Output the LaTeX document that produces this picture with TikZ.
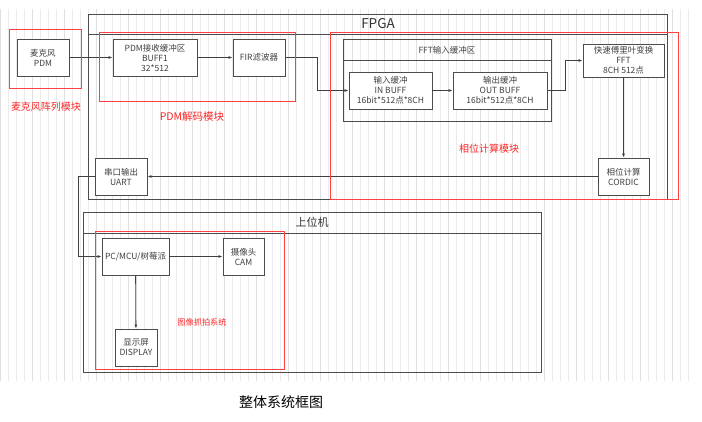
\documentclass[tikz,border=0pt]{standalone}
\usepackage{fontspec}
\setmainfont{Noto Sans CJK SC}
\usetikzlibrary{positioning,calc,arrows.meta}

\begin{document}
\begin{tikzpicture}[x=1pt,y=-1pt,
    blk/.style={draw=black!70,line width=0.9pt,fill=white,align=center,
      font=\fontsize{8.5}{10}\selectfont,text=black!75,inner sep=1pt},
    frame/.style={draw=black!70,line width=0.9pt},
    zone/.style={draw=red!75,line width=0.9pt},
    zonetext/.style={text=red!85},
    link/.style={draw=black!75,line width=0.8pt,-{Latex[length=4pt,width=3pt]}}]
                    \useasboundingbox (0,0) rectangle (702,421);
                    \fill[white] (0,0) rectangle (702,421);
                    \draw[black!8,line width=0.6pt,step=8] (0,9) grid (693,381);  % 背景网格
                    \draw[black!12,line width=0.6pt,step=32] (0,9) grid (693,381);

                    % FPGA
                    \draw[frame] (88,14) rectangle (667,199);
                    \draw[frame] (88,34) -- (667,34);
                    \node[font=\fontsize{13.5}{15}\selectfont,text=black!80] (fpgaT) at (378,24) {FPGA};
                    \draw[frame] (343,39) rectangle (551,121);
                    \draw[frame] (343,60) -- (551,60);
                    \node[font=\fontsize{8.5}{10}\selectfont,text=black!75] (fftbufT) at (447,50) {FFT输入缓冲区};

                    % 上位机
                    \draw[frame] (83,212) rectangle (541,372);
                    \draw[frame] (83,233) -- (541,233);
                    \node[font=\fontsize{11}{13}\selectfont,text=black!80] (hostT) at (312,222) {上位机};

                    \node[blk,minimum width=52pt,minimum height=37pt] (mic) at (43,57.5) {麦克风\\PDM};
                    \node[blk,minimum width=84pt,minimum height=37pt] (buff) at (155,57.5) {PDM接收缓冲区\\BUFF1\\32*512};
                    \node[blk,minimum width=52pt,minimum height=37pt] (fir) at (259,57.5) {FIR滤波器};
                    \node[blk,minimum width=83pt,minimum height=37pt] (inbuf) at (390.5,90.5) {输入缓冲\\IN BUFF\\16bit*512点*8CH};
                    \node[blk,minimum width=94pt,minimum height=37pt] (outbuf) at (500,90.5) {输出缓冲\\OUT BUFF\\16bit*512点*8CH};
                    \node[blk,minimum width=81pt,minimum height=33pt] (fft) at (623.5,60.5) {快速傅里叶变换\\FFT\\8CH 512点};
                    \node[blk,minimum width=51pt,minimum height=37pt] (cordic) at (623.5,176.5) {相位计算\\CORDIC};
                    \node[blk,minimum width=52pt,minimum height=37pt] (uart) at (121,176.5) {串口输出\\UART};
                    \node[blk,minimum width=67pt,minimum height=37pt] (pc) at (135.5,256.5) {PC/MCU/树莓派};
                    \node[blk,minimum width=41pt,minimum height=37pt] (cam) at (243.5,256.5) {摄像头\\CAM};
                    \node[blk,minimum width=42pt,minimum height=37pt] (disp) at (136,347.5) {显示屏\\DISPLAY};

                    \coordinate (fold1) at (317,57.5);
                    \coordinate (fold2) at (565,90.5);
                    \coordinate (fold3) at (78,176.5);

                    \draw[link] (mic) -- (buff);
                    \draw[link] (buff) -- (fir);
                    \draw[link] (fir.east) -- (fold1) |- (inbuf.west);
                    \draw[link] (inbuf) -- (outbuf);
                    \draw[link] (outbuf.east) -- (fold2) |- (fft.west);
                    \draw[link] (fft) -- (cordic);
                    \draw[link] (cordic) -- (uart);
                    \draw[link] (uart.west) -- (fold3) |- (pc.west);
                    \draw[link] (pc) -- (cam);
                    \draw[link] (pc) -- (disp);

                    % 红色模块框
                    \draw[zone] (9,29) rectangle (81,88);
                    \draw[zone] (99,32) rectangle (295,101);
                    \draw[zone] (330,32) rectangle (678,199);
                    \draw[zone] (95,231) rectangle (284,369);
                    \node[zonetext,font=\fontsize{10}{12}\selectfont] (micZ) at (46,107) {麦克风阵列模块};
                    \node[zonetext,font=\fontsize{10.5}{12}\selectfont] (pdmZ) at (192,117) {PDM解码模块};
                    \node[zonetext,font=\fontsize{10}{12}\selectfont] (phaseZ) at (489,149) {相位计算模块};
                    \node[zonetext,font=\fontsize{8.2}{10}\selectfont] (imgZ) at (202,322) {图像抓拍系统};

                    \node[font=\fontsize{14}{16}\selectfont] (cap) at (281,402) {整体系统框图};
                \end{tikzpicture}
\end{document}
